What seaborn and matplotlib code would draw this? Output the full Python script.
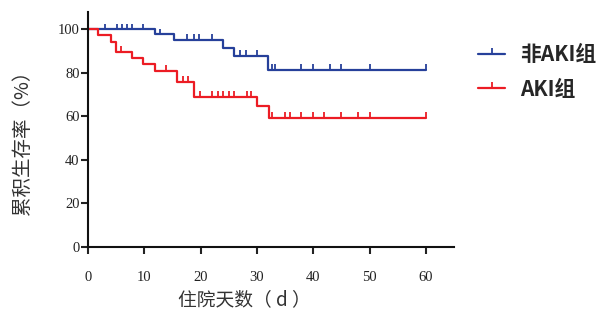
import numpy as np
import pandas as pd
import matplotlib
matplotlib.use("Agg")
import matplotlib.pyplot as plt
from matplotlib.path import Path
from matplotlib.lines import Line2D
import seaborn as sns

# ---- data ----
nonaki_times = [0, 11.9, 15.3, 24.0, 26.0, 32.0, 60.0]
nonaki_surv = [100, 97.7, 95.0, 91.5, 88.0, 81.5, 81.5]
nonaki_censor = [3.0, 5.1, 6.0, 6.9, 7.8, 9.8, 12.8, 17.6, 18.8, 19.8, 22.0,
                 27.0, 28.0, 30.0, 32.6, 33.2, 37.9, 40.0, 43.0, 45.0, 50.0, 60.0]

aki_times = [0, 1.85, 4.0, 4.9, 7.8, 9.8, 11.9, 15.8, 18.9, 30.1, 32.1, 60.0]
aki_surv = [100, 97.5, 94.2, 89.6, 86.8, 84.0, 81.0, 75.8, 69.0, 65.0, 59.5, 59.5]
aki_censor = [5.9, 13.9, 16.9, 17.8, 19.9, 22.1, 23.0, 23.9, 25.0, 25.9, 28.2, 29.0,
              32.7, 35.0, 35.9, 37.9, 40.0, 42.0, 45.0, 47.9, 50.0, 60.0]

groups = ["非AKI组", "AKI组"]
colors = ["#26409a", "#ec1c24"]
xticks = [0, 10, 20, 30, 40, 50, 60]
yticks = [0, 20, 40, 60, 80, 100]
xlabel = "住院天数（ d ）"
ylabel = "累积生存率（%）"

sns.set_style("white")
plt.rcParams["font.family"] = ["Liberation Serif", "DejaVu Serif"]

fig = plt.figure(figsize=(6.04, 3.18), dpi=100)
ax = fig.add_axes([88 / 604, 1 - 247 / 318, (454 - 88) / 604, (247 - 12) / 318])

tick_marker = Path([(0, 0), (0, 1)], [Path.MOVETO, Path.LINETO])

series = [(nonaki_times, nonaki_surv, nonaki_censor),
          (aki_times, aki_surv, aki_censor)]
for (t, s, c), g, col in zip(series, groups, colors):
    df = pd.DataFrame({"t": t, "s": s})
    sns.lineplot(data=df, x="t", y="s", ax=ax, color=col, lw=1.6,
                 drawstyle="steps-post", estimator=None, sort=False)
    t_arr = np.array(t)
    idx = np.searchsorted(t_arr, np.array(c), side="right") - 1
    cdf = pd.DataFrame({"t": c, "s": np.array(s)[idx]})
    sns.scatterplot(data=cdf, x="t", y="s", ax=ax, marker=tick_marker, s=70,
                    facecolor="none", edgecolor=col, linewidth=1.3, zorder=3)

ax.set_xlim(0, 65)
ax.set_ylim(0, 108)
ax.set_xticks(xticks)
ax.set_yticks(yticks)
ax.tick_params(axis="both", direction="out", length=5, width=1.5,
               labelsize=10.5, colors="#222222", bottom=True, left=True)
ax.tick_params(axis="x", pad=12)
ax.tick_params(axis="y", pad=1)
for sp in ["top", "right"]:
    ax.spines[sp].set_visible(False)
for sp in ["left", "bottom"]:
    ax.spines[sp].set_linewidth(1.5)
    ax.spines[sp].set_color("#111111")

ax.set_xlabel(xlabel, family=["Noto Sans CJK SC", "DejaVu Sans"], fontsize=13.5,
              color="#333333")
ax.set_ylabel(ylabel, family=["Noto Sans CJK SC", "DejaVu Sans"], fontsize=14,
              color="#333333")
ax.xaxis.set_label_coords((244 - 88) / 366, -(289 - 247) / 235)
ax.yaxis.set_label_coords(-(88 - 33) / 366, (247 - 138) / 235)

handles = [Line2D([], [], color=col, lw=1.6, marker=tick_marker, markersize=9,
                  markeredgecolor=col, markeredgewidth=1.3) for col in colors]
fig.legend(handles, groups, loc="upper left",
           bbox_to_anchor=(478 / 604, 1 - 44 / 318), frameon=False,
           prop={"family": ["Noto Sans CJK SC", "DejaVu Sans"], "weight": "bold",
                 "size": 15},
           handlelength=1.3, handletextpad=0.7, labelspacing=0.65,
           borderpad=0, borderaxespad=0, numpoints=1)

fig.savefig("out.png", dpi=100)
